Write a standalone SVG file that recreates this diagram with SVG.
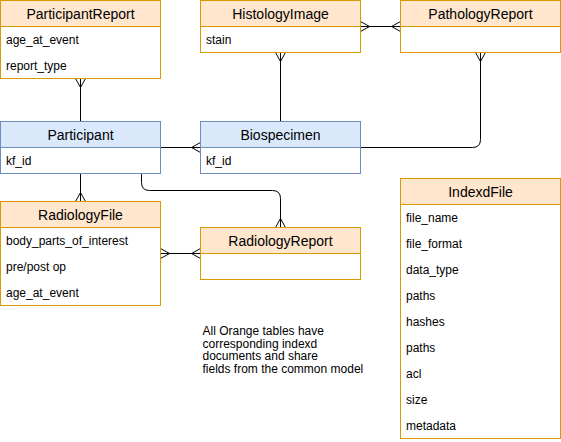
<svg xmlns="http://www.w3.org/2000/svg" width="561" height="442" viewBox="0 0 561 442">
<style>
.ob{fill:#ffffff;stroke:#d79b00;stroke-width:1}
.oh{fill:#ffe6cc;stroke:#d79b00;stroke-width:1}
.bb{fill:#ffffff;stroke:#6c8ebf;stroke-width:1}
.bh{fill:#dae8fc;stroke:#6c8ebf;stroke-width:1}
.h{font-family:"Liberation Sans",Arial,Helvetica,sans-serif;font-size:14px;fill:#000;text-anchor:middle}
.r{font-family:"Liberation Sans",Arial,Helvetica,sans-serif;font-size:12px;fill:#000}
.c{fill:none;stroke:#000;stroke-width:1}
</style>
<defs>
<marker id="many" markerUnits="userSpaceOnUse" markerWidth="20" markerHeight="20" refX="10" refY="10" orient="auto-start-reverse" viewBox="0 0 20 20">
<path d="M1 10 L10 5 M1 10 L10 15 M1 10 L10 10" fill="none" stroke="#000" stroke-width="1"/>
</marker>
</defs>
<g id="connectors">
<path class="c" d="M80.5 121.5 V78.5" marker-end="url(#many)"/>
<path class="c" d="M360.5 26.5 H400.5" marker-start="url(#many)" marker-end="url(#many)"/>
<path class="c" d="M280.5 121.5 V52.5" marker-end="url(#many)"/>
<path class="c" d="M360.5 147.5 H472.5 Q480.5 147.5 480.5 139.5 V52.5" marker-end="url(#many)"/>
<path class="c" d="M160.5 147.5 H200.5" marker-end="url(#many)"/>
<path class="c" d="M80.5 173.5 V201.5" marker-end="url(#many)"/>
<path class="c" d="M141.5 173.5 V182.5 Q141.5 190.5 149.5 190.5 H272.5 Q280.5 190.5 280.5 198.5 V227.5" marker-end="url(#many)"/>
<path class="c" d="M160.5 253.5 H200.5" marker-start="url(#many)" marker-end="url(#many)"/>
</g>
<g id="ParticipantReport">
<rect class="ob" x="0.5" y="0.5" width="160" height="78"/>
<rect class="oh" x="0.5" y="0.5" width="160" height="26"/>
<text class="h" x="80.5" y="18.5">ParticipantReport</text>
<text class="r" x="6" y="44">age_at_event</text>
<text class="r" x="6" y="70">report_type</text>
</g>
<g id="HistologyImage">
<rect class="ob" x="200.5" y="0.5" width="160" height="52"/>
<rect class="oh" x="200.5" y="0.5" width="160" height="26"/>
<text class="h" x="280.5" y="18.5">HistologyImage</text>
<text class="r" x="206" y="44">stain</text>
</g>
<g id="PathologyReport">
<rect class="ob" x="400.5" y="0.5" width="160" height="52"/>
<rect class="oh" x="400.5" y="0.5" width="160" height="26"/>
<text class="h" x="480.5" y="18.5">PathologyReport</text>
</g>
<g id="Participant">
<rect class="bb" x="0.5" y="121.5" width="160" height="52"/>
<rect class="bh" x="0.5" y="121.5" width="160" height="26"/>
<text class="h" x="80.5" y="139.5">Participant</text>
<text class="r" x="6" y="165">kf_id</text>
</g>
<g id="Biospecimen">
<rect class="bb" x="200.5" y="121.5" width="160" height="52"/>
<rect class="bh" x="200.5" y="121.5" width="160" height="26"/>
<text class="h" x="280.5" y="139.5">Biospecimen</text>
<text class="r" x="206" y="165">kf_id</text>
</g>
<g id="RadiologyFile">
<rect class="ob" x="0.5" y="201.5" width="160" height="104"/>
<rect class="oh" x="0.5" y="201.5" width="160" height="26"/>
<text class="h" x="80.5" y="219.5">RadiologyFile</text>
<text class="r" x="6" y="245">body_parts_of_interest</text>
<text class="r" x="6" y="271">pre/post op</text>
<text class="r" x="6" y="297">age_at_event</text>
</g>
<g id="RadiologyReport">
<rect class="ob" x="200.5" y="227.5" width="160" height="52"/>
<rect class="oh" x="200.5" y="227.5" width="160" height="26"/>
<text class="h" x="280.5" y="245.5">RadiologyReport</text>
</g>
<g id="IndexdFile">
<rect class="ob" x="400.5" y="178.5" width="160" height="260"/>
<rect class="oh" x="400.5" y="178.5" width="160" height="26"/>
<text class="h" x="480.5" y="196.5">IndexdFile</text>
<text class="r" x="406" y="222">file_name</text>
<text class="r" x="406" y="248">file_format</text>
<text class="r" x="406" y="274">data_type</text>
<text class="r" x="406" y="300">paths</text>
<text class="r" x="406" y="326">hashes</text>
<text class="r" x="406" y="352">paths</text>
<text class="r" x="406" y="378">acl</text>
<text class="r" x="406" y="404">size</text>
<text class="r" x="406" y="430">metadata</text>
</g>
<g id="note">
<text class="r" x="202.5" y="335">All Orange tables have</text>
<text class="r" x="202.5" y="347.7">corresponding indexd</text>
<text class="r" x="202.5" y="360.4">documents and share</text>
<text class="r" x="202.5" y="373.1">fields from the common model</text>
</g>
</svg>
